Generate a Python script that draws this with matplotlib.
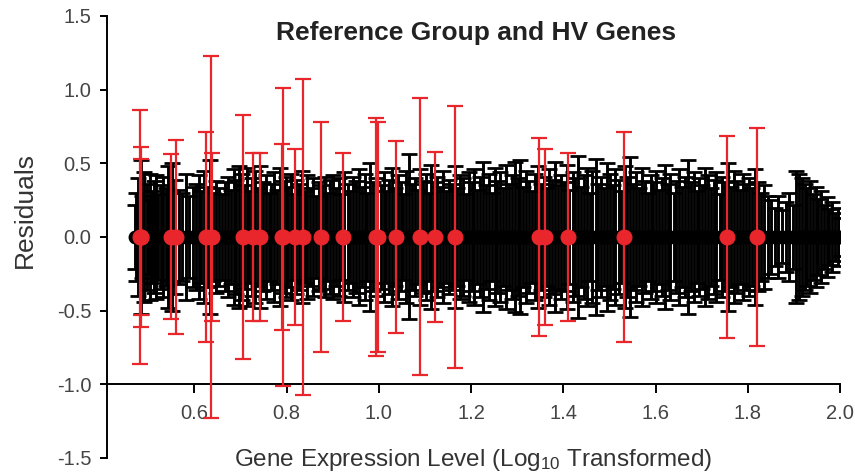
import matplotlib
matplotlib.use("Agg")
import matplotlib.pyplot as plt
import numpy as np

plt.rcParams['font.family'] = ['Liberation Sans', 'DejaVu Sans']
plt.rcParams['mathtext.fontset'] = 'custom'
plt.rcParams['mathtext.rm'] = 'Liberation Sans'
plt.rcParams['mathtext.it'] = 'Liberation Sans'
plt.rcParams['axes.unicode_minus'] = False

# reference group genes (black): expression level and residual error
ref_x = [
    0.470, 0.474, 0.478, 0.483, 0.487, 0.491, 0.496, 0.499,
    0.503, 0.508, 0.512, 0.517, 0.521, 0.527, 0.532, 0.538, 0.543, 0.551, 0.557, 0.566, 0.574, 0.582, 0.589, 0.596,
    0.603, 0.609, 0.615, 0.621, 0.628, 0.634, 0.641, 0.647, 0.653, 0.660, 0.666, 0.672, 0.679, 0.685, 0.691, 0.697,
    0.702, 0.708, 0.713, 0.719, 0.724, 0.731, 0.737, 0.742, 0.748, 0.755, 0.761, 0.767, 0.773, 0.779, 0.786, 0.792, 0.798,
    0.803, 0.809, 0.815, 0.821, 0.827, 0.833, 0.839, 0.845, 0.851, 0.857, 0.864, 0.870, 0.876, 0.882, 0.888, 0.894,
    0.901, 0.907, 0.913, 0.919, 0.925, 0.932, 0.938, 0.944, 0.950, 0.957, 0.963, 0.969, 0.975, 0.981, 0.987, 0.994,
    1.004, 1.010, 1.016, 1.022, 1.028, 1.035, 1.041, 1.047, 1.053, 1.059, 1.066, 1.072, 1.078, 1.084, 1.090, 1.096,
    1.102, 1.108, 1.114, 1.120, 1.127, 1.133, 1.139, 1.145, 1.151, 1.158, 1.164, 1.170, 1.176, 1.182, 1.189, 1.195,
    1.201, 1.207, 1.213, 1.220, 1.226, 1.232, 1.238, 1.245, 1.251, 1.257, 1.263, 1.270, 1.276, 1.282, 1.288, 1.295,
    1.301, 1.307, 1.313, 1.319, 1.326, 1.332, 1.338, 1.344, 1.351, 1.357, 1.363, 1.369, 1.376, 1.382, 1.388, 1.394,
    1.401, 1.407, 1.413, 1.420, 1.426, 1.432, 1.438, 1.445, 1.451, 1.457, 1.463, 1.470, 1.476, 1.482, 1.488, 1.495,
    1.501, 1.507, 1.513, 1.520, 1.526, 1.533, 1.539, 1.545, 1.551, 1.558, 1.564, 1.570, 1.576, 1.583, 1.589, 1.595,
    1.601, 1.607, 1.614, 1.620, 1.626, 1.632, 1.639, 1.645, 1.651, 1.658, 1.664, 1.670, 1.676, 1.683, 1.689, 1.695,
    1.701, 1.707, 1.714, 1.720, 1.726, 1.732, 1.739, 1.745, 1.751, 1.758, 1.764, 1.770, 1.777, 1.783, 1.789, 1.795,
    1.802, 1.808, 1.815, 1.822, 1.829, 1.836, 1.843, 1.850, 1.858, 1.866, 1.874, 1.882, 1.890, 1.897,
    1.905, 1.911, 1.917, 1.923, 1.929, 1.935, 1.941, 1.947, 1.953, 1.959, 1.965, 1.971, 1.977, 1.983, 1.989, 1.995, 2.000,
]
ref_err = [
    0.22, 0.30, 0.40, 0.52, 0.28, 0.44, 0.36, 0.25,
    0.43, 0.31, 0.38, 0.42, 0.29, 0.35, 0.41, 0.33, 0.48, 0.50, 0.39, 0.32, 0.30, 0.43, 0.28, 0.34,
    0.36, 0.42, 0.31, 0.45, 0.34, 0.52, 0.30, 0.38, 0.33, 0.29, 0.37, 0.41, 0.32, 0.46, 0.39, 0.48,
    0.43, 0.35, 0.47, 0.31, 0.40, 0.45, 0.33, 0.48, 0.37, 0.42, 0.30, 0.36, 0.44, 0.32, 0.47, 0.38, 0.41,
    0.34, 0.43, 0.29, 0.39, 0.36, 0.45, 0.31, 0.42, 0.33, 0.40, 0.28, 0.37, 0.35, 0.41, 0.30, 0.39,
    0.42, 0.33, 0.40, 0.29, 0.44, 0.36, 0.31, 0.41, 0.38, 0.46, 0.34, 0.43, 0.30, 0.50, 0.37, 0.40,
    0.35, 0.44, 0.31, 0.39, 0.47, 0.33, 0.42, 0.37, 0.29, 0.45, 0.56, 0.36, 0.40, 0.32, 0.46, 0.38,
    0.43, 0.30, 0.49, 0.37, 0.41, 0.34, 0.45, 0.31, 0.39, 0.36, 0.48, 0.33, 0.42, 0.40, 0.29, 0.44,
    0.37, 0.46, 0.32, 0.41, 0.51, 0.35, 0.43, 0.30, 0.47, 0.38, 0.44, 0.33, 0.49, 0.36, 0.42, 0.51,
    0.40, 0.52, 0.34, 0.45, 0.38, 0.31, 0.43, 0.48, 0.36, 0.41, 0.33, 0.46, 0.39, 0.51, 0.35, 0.42,
    0.37, 0.49, 0.32, 0.44, 0.40, 0.55, 0.34, 0.42, 0.47, 0.30, 0.45, 0.53, 0.36, 0.41, 0.33, 0.50,
    0.43, 0.35, 0.46, 0.39, 0.31, 0.48, 0.41, 0.54, 0.36, 0.44, 0.33, 0.47, 0.38, 0.30, 0.42, 0.37,
    0.45, 0.32, 0.40, 0.49, 0.36, 0.43, 0.30, 0.38, 0.46, 0.34, 0.41, 0.52, 0.37, 0.44, 0.31, 0.40,
    0.35, 0.47, 0.42, 0.33, 0.39, 0.44, 0.29, 0.41, 0.37, 0.50, 0.34, 0.45, 0.38, 0.32, 0.43, 0.36,
    0.40, 0.33, 0.46, 0.37, 0.30, 0.35, 0.28, 0.25, 0.20, 0.28, 0.18, 0.24, 0.30, 0.22,
    0.45, 0.43, 0.40, 0.36, 0.33, 0.38, 0.29, 0.34, 0.26, 0.31, 0.22, 0.27, 0.19, 0.24, 0.16, 0.20, 0.13,
]
ref_y = [0.0] * len(ref_x)

# highly variable genes (red)
hv_x = [0.481, 0.483, 0.485, 0.548, 0.559, 0.624, 0.635, 0.637, 0.706, 0.726,
        0.741, 0.789, 0.793, 0.817, 0.836, 0.875, 0.923, 0.994, 0.999, 1.038,
        1.088, 1.122, 1.166, 1.348, 1.361, 1.410, 1.532, 1.755, 1.820]
hv_err = [0.86, 0.61, 0.53, 0.56, 0.66, 0.71, 1.23, 0.57, 0.83, 0.57,
          0.57, 0.63, 1.01, 0.60, 1.07, 0.78, 0.57, 0.81, 0.78, 0.65,
          0.94, 0.58, 0.89, 0.67, 0.60, 0.57, 0.71, 0.685, 0.74]
hv_y = [0.0] * len(hv_x)

xticks = [0.6, 0.8, 1.0, 1.2, 1.4, 1.6, 1.8, 2.0]
yticks = [-1.5, -1.0, -0.5, 0.0, 0.5, 1.0, 1.5]

fig = plt.figure(figsize=(8.55, 4.74), dpi=100)
ax = fig.add_axes([0.125, 0.0338, 0.8575, 0.9325])

ax.errorbar(ref_x, ref_y, yerr=ref_err, fmt='o', color='black', ecolor='black',
            markersize=9, elinewidth=2.1, capsize=6, capthick=2.0, zorder=2)
ax.errorbar(hv_x, hv_y, yerr=hv_err, fmt='o', color='#e8262b', ecolor='#e8262b',
            markersize=10.5, elinewidth=1.6, capsize=6, capthick=1.6, zorder=3)

ax.set_xlim(0.41, 2.0)
ax.set_ylim(-1.5, 1.5)
ax.set_xticks(xticks)
ax.set_yticks(yticks)
ax.set_xticklabels([f'{t:.1f}' for t in xticks])
ax.set_yticklabels([f'{t:.1f}' for t in yticks])

ax.spines['top'].set_visible(False)
ax.spines['right'].set_visible(False)
ax.spines['bottom'].set_position(('data', -1.0))
for s in ['left', 'bottom']:
    ax.spines[s].set_linewidth(1.4)

ax.tick_params(axis='x', length=6.5, width=1.4, labelsize=14.5, labelcolor='#444444', pad=8)
ax.tick_params(axis='y', length=5, width=1.4, labelsize=14.5, labelcolor='#444444', pad=6)

ax.set_xlabel(r'Gene Expression Level (Log$_{10}$ Transformed)', fontsize=17.5, color='#333333')
ax.xaxis.set_label_coords(0.5, -0.005)
ax.xaxis.label.set_va('center')
ax.set_ylabel('Residuals', fontsize=19, color='#333333')
ax.yaxis.set_label_coords(-0.112, 0.561)
ax.yaxis.label.set_va('center')

fig.text(476 / 855, 1 - 33 / 474, 'Reference Group and HV Genes', fontsize=19,
         fontweight='bold', color='#222222', ha='center', va='center')

fig.savefig('out.png', dpi=100)
